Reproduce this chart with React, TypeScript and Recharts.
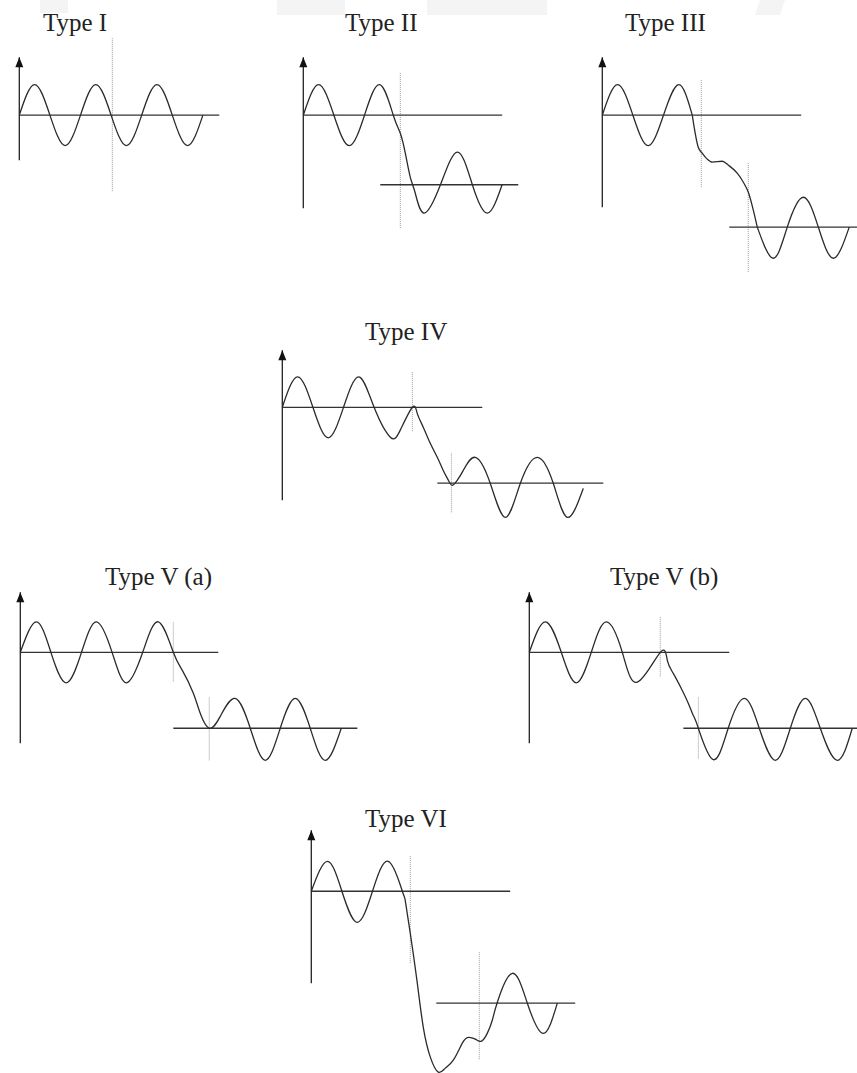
import React from "react";
import { ComposedChart, Line, XAxis, YAxis, ReferenceLine, ReferenceDot } from "recharts";

// scale: one time unit = a quarter period, one value unit = one amplitude
const UX = 15.3;
const UY = 30.5;

type Pt = { t: number; v: number };
type Base = { t0: number; t1: number; v: number };
type Dot = { t: number; v0: number; v1: number };
type Axis = { bottom: number; top: number };
type Seg = { pts: Pt[]; curve: "natural" | "monotone" };

// ---------- Type I ----------
const waveI: Pt[] = [
  { t: 0, v: 0 }, { t: 1, v: 1 }, { t: 2, v: 0 }, { t: 3, v: -1 }, { t: 4, v: 0 },
  { t: 5, v: 1 }, { t: 6, v: 0 }, { t: 7, v: -1 }, { t: 8, v: 0 }, { t: 9, v: 1 },
  { t: 10, v: 0 }, { t: 11, v: -1 }, { t: 12, v: 0 },
];
const basesI: Base[] = [{ t0: 0, t1: 13.07, v: 0 }];
const dotsI: Dot[] = [{ t: 6.08, v0: 2.52, v1: -2.49 }];
const axisI: Axis = { bottom: -1.48, top: 1.9 };

// ---------- Type II ----------
const waveII: Pt[] = [
  { t: 0, v: 0 }, { t: 1, v: 1 }, { t: 2, v: 0 }, { t: 3, v: -1 }, { t: 4, v: 0 },
  { t: 5, v: 1 }, { t: 5.88, v: 0 }, { t: 6.34, v: -0.59 }, { t: 6.67, v: -1.25 },
  { t: 6.99, v: -2.03 }, { t: 7.32, v: -2.56 }, { t: 7.9, v: -3.21 }, { t: 8.95, v: -2.3 },
  { t: 10.07, v: -1.21 }, { t: 11.05, v: -2.28 }, { t: 12.03, v: -3.21 }, { t: 13.0, v: -2.27 },
];
const basesII: Base[] = [{ t0: 0, t1: 13.0, v: 0 }, { t0: 5.03, t1: 14.05, v: -2.28 }];
const dotsII: Dot[] = [{ t: 6.34, v0: 1.38, v1: -3.7 }];
const axisII: Axis = { bottom: -3.05, top: 1.9 };

// ---------- Type III ----------
const waveIIIUpper: Pt[] = [
  { t: 0, v: 0 }, { t: 1, v: 1 }, { t: 2, v: 0 }, { t: 3, v: -1 }, { t: 4, v: 0 },
  { t: 5, v: 1 }, { t: 5.88, v: 0 },
];
const waveIIIStep: Pt[] = [
  { t: 5.88, v: 0 }, { t: 6.27, v: -1.05 }, { t: 6.54, v: -1.25 },
  { t: 6.86, v: -1.44 }, { t: 7.19, v: -1.54 }, { t: 7.84, v: -1.51 }, { t: 8.24, v: -1.64 },
  { t: 8.82, v: -1.9 }, { t: 9.22, v: -2.2 }, { t: 9.54, v: -2.52 }, { t: 9.87, v: -3.11 },
  { t: 10.13, v: -3.67 },
];
const waveIIILower: Pt[] = [
  { t: 10.13, v: -3.67 }, { t: 11.18, v: -4.69 }, { t: 12.09, v: -3.67 }, { t: 13.14, v: -2.69 },
  { t: 14.12, v: -3.67 }, { t: 15.1, v: -4.69 }, { t: 16.14, v: -3.67 },
];
const basesIII: Base[] = [{ t0: 0, t1: 13.0, v: 0 }, { t0: 8.3, t1: 16.67, v: -3.67 }];
const dotsIII: Dot[] = [
  { t: 6.47, v0: 1.15, v1: -2.39 },
  { t: 9.54, v0: -1.57, v1: -5.15 },
];
const axisIII: Axis = { bottom: -3.02, top: 1.9 };

// ---------- Type IV ----------
const waveIV: Pt[] = [
  { t: 0, v: 0 }, { t: 1, v: 1 }, { t: 2, v: 0 }, { t: 3, v: -1 }, { t: 4, v: 0 },
  { t: 5, v: 1 }, { t: 6, v: 0 }, { t: 7.06, v: -0.98 }, { t: 7.71, v: -0.75 },
  { t: 8.5, v: 0 }, { t: 8.82, v: -0.2 }, { t: 9.22, v: -0.66 }, { t: 9.67, v: -1.18 },
  { t: 10.13, v: -1.64 }, { t: 10.52, v: -2.07 }, { t: 10.85, v: -2.39 }, { t: 11.11, v: -2.56 },
  { t: 11.44, v: -2.39 }, { t: 11.83, v: -2.07 }, { t: 12.61, v: -1.64 }, { t: 13.59, v: -2.49 },
  { t: 14.58, v: -3.61 }, { t: 15.56, v: -2.49 }, { t: 16.67, v: -1.64 }, { t: 17.71, v: -2.49 },
  { t: 18.63, v: -3.61 }, { t: 19.67, v: -2.66 },
];
const basesIV: Base[] = [{ t0: 0, t1: 13.07, v: 0 }, { t0: 10.13, t1: 20.98, v: -2.49 }];
const dotsIV: Dot[] = [
  { t: 8.5, v0: 1.15, v1: -0.82 },
  { t: 11.05, v0: -1.51, v1: -3.48 },
];
const axisIV: Axis = { bottom: -3.05, top: 1.87 };

// ---------- Type V (a) ----------
const waveVa: Pt[] = [
  { t: 0, v: 0 }, { t: 1.05, v: 1 }, { t: 2, v: 0 }, { t: 3, v: -1 }, { t: 4, v: 0 },
  { t: 4.97, v: 1 }, { t: 6, v: 0 }, { t: 6.93, v: -1 }, { t: 8, v: 0 }, { t: 9.02, v: 1 },
  { t: 10, v: 0 }, { t: 10.59, v: -0.59 }, { t: 11.31, v: -1.34 }, { t: 11.76, v: -2.0 },
  { t: 12.35, v: -2.49 }, { t: 13.07, v: -2.1 }, { t: 14.05, v: -1.51 }, { t: 15.03, v: -2.49 },
  { t: 16.01, v: -3.54 }, { t: 16.99, v: -2.49 }, { t: 17.97, v: -1.51 }, { t: 18.95, v: -2.49 },
  { t: 19.93, v: -3.54 }, { t: 20.98, v: -2.49 },
];
const basesVa: Base[] = [{ t0: 0, t1: 12.94, v: 0 }, { t0: 10.0, t1: 22.03, v: -2.49 }];
const dotsVa: Dot[] = [
  { t: 10.0, v0: 0.98, v1: -0.98 },
  { t: 12.35, v0: -1.48, v1: -3.54 },
];
const axisVa: Axis = { bottom: -2.98, top: 1.97 };

// ---------- Type V (b) ----------
const waveVb: Pt[] = [
  { t: 0, v: 0 }, { t: 1.05, v: 1 }, { t: 2.09, v: 0 }, { t: 3.07, v: -1 }, { t: 4.05, v: 0 },
  { t: 5.03, v: 1 }, { t: 6.08, v: 0 }, { t: 7.06, v: -0.98 }, { t: 8.56, v: 0 },
  { t: 9.02, v: -0.26 }, { t: 9.41, v: -0.69 }, { t: 10.0, v: -1.25 }, { t: 10.39, v: -1.67 },
  { t: 10.72, v: -2.07 }, { t: 11.05, v: -2.49 }, { t: 12.03, v: -3.52 }, { t: 13.0, v: -2.49 },
  { t: 14.05, v: -1.51 }, { t: 15.03, v: -2.49 }, { t: 16.08, v: -3.54 }, { t: 17.06, v: -2.49 },
  { t: 18.04, v: -1.51 }, { t: 19.02, v: -2.49 }, { t: 20.13, v: -3.54 }, { t: 21.11, v: -2.49 },
];
const basesVb: Base[] = [{ t0: 0, t1: 13.07, v: 0 }, { t0: 10.07, t1: 21.44, v: -2.49 }];
const dotsVb: Dot[] = [
  { t: 8.56, v0: 1.15, v1: -0.82 },
  { t: 11.05, v0: -1.48, v1: -3.48 },
];
const axisVb: Axis = { bottom: -2.98, top: 1.97 };

// ---------- Type VI ----------
const waveVI: Pt[] = [
  { t: 0, v: 0 }, { t: 1.05, v: 0.98 }, { t: 2, v: 0 }, { t: 3, v: -1.02 }, { t: 4, v: 0 },
  { t: 5.03, v: 0.98 }, { t: 5.95, v: 0 }, { t: 6.14, v: -0.3 }, { t: 6.47, v: -1.38 },
  { t: 6.93, v: -3.02 }, { t: 7.32, v: -4.46 }, { t: 7.78, v: -5.44 }, { t: 8.3, v: -5.93 },
  { t: 8.76, v: -5.8 }, { t: 9.28, v: -5.54 }, { t: 9.87, v: -4.98 }, { t: 10.26, v: -4.79 },
  { t: 10.72, v: -4.85 }, { t: 11.11, v: -4.92 }, { t: 11.5, v: -4.66 }, { t: 11.83, v: -4.23 },
  { t: 12.16, v: -3.64 }, { t: 13.14, v: -2.69 }, { t: 14.12, v: -3.67 }, { t: 15.16, v: -4.66 },
  { t: 16.08, v: -3.67 },
];
const basesVI: Base[] = [{ t0: 0, t1: 13.0, v: 0 }, { t0: 8.17, t1: 17.25, v: -3.67 }];
const dotsVI: Dot[] = [
  { t: 6.47, v0: 1.15, v1: -2.36 },
  { t: 10.98, v0: -2.0, v1: -5.54 },
];
const axisVI: Axis = { bottom: -3.02, top: 2.0 };

const titles = ["Type I", "Type II", "Type III", "Type IV", "Type V (a)", "Type V (b)", "Type VI"];

type Panel = {
  title: string;
  tx: number; ty: number; // title position on the page
  ox: number; oy: number; // page position of the panel origin
  segs: Seg[]; bases: Base[]; dots: Dot[]; axis: Axis;
};

const nat = (pts: Pt[]): Seg => ({ pts, curve: "natural" });
const mono = (pts: Pt[]): Seg => ({ pts, curve: "monotone" });

const panels: Panel[] = [
  { title: titles[0], tx: 43, ty: 31, ox: 19, oy: 115, segs: [nat(waveI)], bases: basesI, dots: dotsI, axis: axisI },
  { title: titles[1], tx: 345, ty: 31, ox: 303, oy: 115, segs: [nat(waveII)], bases: basesII, dots: dotsII, axis: axisII },
  {
    title: titles[2], tx: 625, ty: 31, ox: 602, oy: 115,
    segs: [nat(waveIIIUpper), mono(waveIIIStep), nat(waveIIILower)],
    bases: basesIII, dots: dotsIII, axis: axisIII,
  },
  { title: titles[3], tx: 365, ty: 340, ox: 282, oy: 407, segs: [nat(waveIV)], bases: basesIV, dots: dotsIV, axis: axisIV },
  { title: titles[4], tx: 105, ty: 585, ox: 20, oy: 652, segs: [nat(waveVa)], bases: basesVa, dots: dotsVa, axis: axisVa },
  { title: titles[5], tx: 610, ty: 585, ox: 529, oy: 652, segs: [nat(waveVb)], bases: basesVb, dots: dotsVb, axis: axisVb },
  { title: titles[6], tx: 365, ty: 827, ox: 311, oy: 891, segs: [nat(waveVI)], bases: basesVI, dots: dotsVI, axis: axisVI },
];

const Arrow = (props: any) => {
  const { cx, cy } = props;
  return <path d={`M${cx},${cy} L${cx - 4},${cy + 10} L${cx + 4},${cy + 10} Z`} fill="#111" />;
};

function PanelChart({ p }: { p: Panel }) {
  const allPts = p.segs.flatMap((s) => s.pts);
  const tMin = -1;
  const tMax = Math.max(...p.bases.map((b) => b.t1), ...allPts.map((w) => w.t)) + 1;
  const vMax = Math.max(p.axis.top, ...p.dots.map((d) => d.v0)) + 0.5;
  const vMin = Math.min(p.axis.bottom, ...allPts.map((w) => w.v), ...p.dots.map((d) => d.v1)) - 0.5;
  const width = (tMax - tMin) * UX;
  const height = (vMax - vMin) * UY;
  const left = p.ox + tMin * UX;
  const top = p.oy - vMax * UY;
  return (
    <div style={{ position: "absolute", left, top, width, height }}>
      <ComposedChart width={width} height={height} margin={{ top: 0, right: 0, bottom: 0, left: 0 }}>
        <XAxis type="number" dataKey="t" domain={[tMin, tMax]} allowDataOverflow hide />
        <YAxis type="number" dataKey="v" domain={[vMin, vMax]} allowDataOverflow hide />
        {p.dots.map((d, i) => (
          <ReferenceLine
            key={"d" + i}
            segment={[{ x: d.t, y: d.v0 }, { x: d.t, y: d.v1 }]}
            stroke="#9a9a9a"
            strokeWidth={1}
            strokeDasharray="1 1"
            ifOverflow="visible"
          />
        ))}
        {p.bases.map((b, i) => (
          <ReferenceLine
            key={"b" + i}
            segment={[{ x: b.t0, y: b.v }, { x: b.t1, y: b.v }]}
            stroke="#333"
            strokeWidth={1.3}
            ifOverflow="visible"
          />
        ))}
        <ReferenceLine
          segment={[{ x: 0, y: p.axis.bottom }, { x: 0, y: p.axis.top }]}
          stroke="#222"
          strokeWidth={1.3}
          ifOverflow="visible"
        />
        <ReferenceDot x={0} y={p.axis.top} r={4} shape={Arrow} ifOverflow="visible" />
        {p.segs.map((s, i) => (
          <Line
            key={"w" + i}
            data={s.pts}
            dataKey="v"
            type={s.curve}
            dot={false}
            activeDot={false}
            stroke="#2b2b2b"
            strokeWidth={1.3}
            isAnimationActive={false}
          />
        ))}
      </ComposedChart>
    </div>
  );
}

export default function App() {
  return (
    <div
      style={{
        position: "absolute",
        left: 0,
        top: 0,
        width: 857,
        height: 1073,
        overflow: "hidden",
        background: "#fff",
      }}
    >
      <svg width={857} height={1073} style={{ position: "absolute", left: 0, top: 0 }}>
        <rect x={40} y={0} width={28} height={13} fill="#f4f4f4" />
        <rect x={277} y={0} width={68} height={15} fill="#f4f4f4" />
        <rect x={427} y={0} width={120} height={15} fill="#f4f4f4" />
        <polygon points="760,0 785,0 780,15 755,15" fill="#f4f4f4" />
        {panels.map((p) => (
          <text
            key={p.title}
            x={p.tx}
            y={p.ty}
            fontFamily="'Liberation Serif', 'Times New Roman', serif"
            fontSize={25}
            fill="#222"
          >
            {p.title}
          </text>
        ))}
      </svg>
      {panels.map((p) => (
        <PanelChart key={p.title} p={p} />
      ))}
    </div>
  );
}
